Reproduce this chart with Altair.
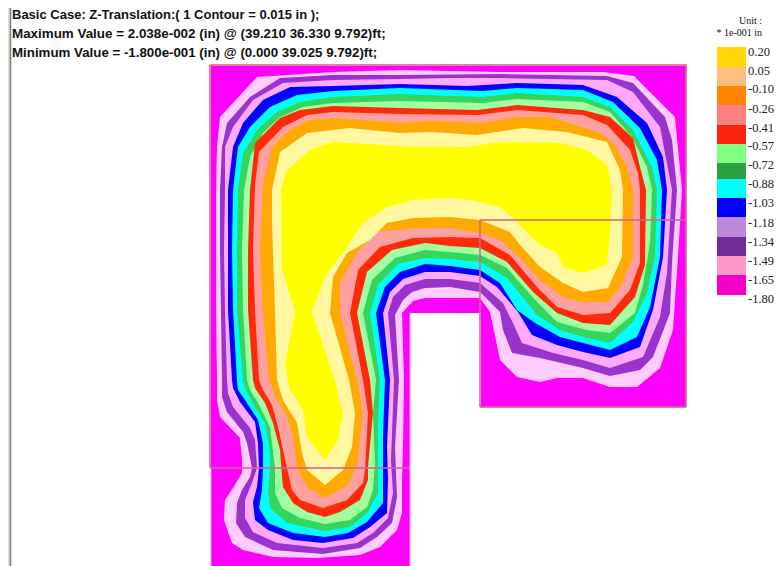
import altair as alt
import pandas as pd

title_lines = ["Basic Case: Z-Translation:( 1 Contour = 0.015 in );",
               "Maximum Value = 2.038e-002 (in) @ (39.210 36.330 9.792)ft;",
               "Minimum Value = -1.800e-001 (in) @ (0.000 39.025 9.792)ft;"]
title_x = [12, 12, 12]
title_y = [15, 34, 53]
title_size = [13.0, 13.4, 13.3]

legend_labels = ["0.20","0.05","-0.10","-0.26","-0.41","-0.57","-0.72","-0.88","-1.03","-1.18","-1.34","-1.49","-1.65","-1.80"]
legend_label_y = [52,71,89,109,128,146,165,184,203,223,242,261,280,299]
legend_top = [47,67,86,105,125,144,163,179,198,217,237,256,275]
legend_bottom = [67,86,105,125,144,163,179,198,217,237,256,275,295]
legend_colors = ["#FFD80A","#FFBE80","#FF8400","#FF8080","#FF2410","#80FF80","#2AA040","#00FFFF","#0000FF","#BC88DC","#702D9A","#FF99CC","#F500C8"]

base = [(211,66),(686,66),(686,407),(481,407),(481,313),(410,313),(410,566),(211,566)]
pink = [(217,380),(216,310),(216,250),(216,190),(217,147),(220,117),(257,77),(333,72),(400,70),(500,72),(603,72),(634,76),(675,117),(682,190),(678,257),(673,330),(660,368),(637,387),(610,387),(583,378),(557,378),(540,382),(517,377),(500,360),(490,312),(480,298),(450,298),(425,298),(413,301),(402,313),(404,380),(403,447),(402,480),(402,513),(397,530),(380,547),(360,555),(317,558),(273,557),(243,550),(232,543),(224,520),(225,500),(233,488),(242,473),(242,460),(240,438),(220,417),(217,400)]
purple = [(222,380),(221,310),(220,250),(220,190),(222,147),(227,123),(250,97),(280,78),(333,75),(400,75),(500,74),(607,76),(633,83),(665,117),(672,140),(677,190),(672,263),(670,313),(653,357),(640,370),(610,376),(583,368),(540,358),(512,353),(503,330),(500,312),(480,292),(450,287),(425,288),(412,292),(403,300),(395,315),(399,380),(395,447),(397,497),(392,523),(377,537),(360,548),(323,554),(273,550),(245,537),(236,523),(237,503),(242,490),(250,477),(252,468),(247,443),(243,432),(227,412),(222,397)]
violet = [(227,380),(225,310),(224,250),(225,190),(225,147),(233,127),(253,100),(283,83),(333,80),(400,79),(450,78),(500,78),(607,80),(633,92),(660,127),(672,190),(667,273),(660,317),(643,357),(610,368),(583,360),(553,353),(522,343),(513,323),(503,303),(480,283),(450,279),(425,279),(405,285),(393,297),(388,313),(394,380),(391,460),(393,493),(388,518),(373,533),(357,543),(323,548),(277,543),(253,532),(245,518),(245,500),(252,483),(257,468),(255,440),(250,428),(233,407),(228,393)]
blue = [(232,380),(228,310),(228,250),(228,190),(233,147),(243,123),(263,100),(290,87),(333,86),(400,84),(467,86),(517,83),(583,85),(617,97),(647,123),(663,157),(667,190),(663,257),(653,310),(640,347),(610,358),(583,352),(557,345),(532,335),(518,312),(497,287),(480,276),(450,272),(425,272),(403,279),(390,292),(383,313),(390,380),(387,447),(388,480),(387,513),(370,527),(353,538),(323,543),(293,540),(268,530),(255,520),(253,502),(257,487),(259,468),(258,443),(255,422),(240,402),(233,388)]
cyan = [(237,380),(233,310),(232,250),(233,190),(238,147),(250,127),(270,107),(297,95),(333,91),(400,88),(483,91),(517,88),(583,90),(613,102),(640,128),(657,160),(662,190),(660,257),(650,307),(637,337),(610,350),(583,343),(560,337),(535,323),(517,310),(500,283),(480,270),(450,266),(425,264),(400,272),(385,287),(376,313),(385,380),(383,437),(383,470),(383,503),(367,522),(348,533),(325,537),(293,533),(268,523),(259,508),(262,490),(263,468),(263,443),(258,420),(245,400),(238,390)]
green = [(243,380),(237,310),(237,250),(238,190),(243,153),(257,130),(277,112),(300,102),(333,97),(400,94),(483,97),(517,93),(583,97),(610,107),(633,130),(652,167),(657,190),(655,257),(647,293),(633,322),(610,343),(583,337),(560,330),(537,315),(507,278),(480,262),(450,259),(425,258),(398,264),(378,285),(370,313),(380,380),(378,423),(378,467),(378,493),(368,512),(350,527),(325,531),(310,528),(287,523),(270,508),(268,490),(270,468),(270,453),(265,423),(252,402),(245,388)]
lgreen = [(247,380),(243,310),(242,250),(244,190),(250,157),(263,133),(280,117),(303,107),(333,103),(400,101),(483,103),(517,99),(583,102),(610,112),(632,137),(647,167),(652,190),(650,243),(643,285),(635,313),(610,333),(587,330),(557,322),(537,302),(507,268),(480,255),(450,252),(425,250),(395,258),(372,280),(363,313),(376,380),(373,413),(375,463),(373,490),(367,507),(350,520),(325,524),(300,518),(282,508),(275,493),(275,468),(270,427),(258,403),(250,390)]
red = [(253,380),(248,310),(248,250),(250,190),(255,143),(280,118),(300,110),(333,106),(400,108),(477,110),(517,105),(583,110),(610,117),(633,138),(640,167),(646,190),(645,265),(635,297),(610,325),(583,323),(557,313),(533,292),(507,262),(480,248),(450,246),(425,243),(392,250),(367,272),(357,313),(370,380),(373,413),(368,467),(368,480),(360,500),(340,512),(325,517),(307,512),(293,503),(283,487),(282,477),(280,450),(273,423),(265,403),(255,388)]
salmon = [(259,380),(255,310),(253,250),(255,185),(259,152),(283,127),(307,115),(333,112),(400,114),(477,115),(517,110),(583,115),(607,125),(630,150),(638,173),(640,190),(640,263),(630,290),(610,313),(583,315),(557,307),(537,287),(510,255),(480,238),(450,237),(413,238),(380,247),(358,270),(350,313),(363,380),(368,413),(365,470),(363,483),(347,500),(323,508),(300,500),(292,490),(287,468),(278,427),(272,405),(263,390)]
orange = [(269,380),(263,310),(260,250),(263,185),(272,147),(290,130),(310,120),(333,118),(400,123),(433,121),(483,123),(517,117),(550,117),(600,133),(613,143),(627,167),(633,190),(633,257),(620,287),(608,302),(583,302),(563,297),(540,280),(520,258),(500,240),(480,233),(450,228),(417,228),(377,232),(357,253),(340,283),(340,313),(357,380),(363,413),(357,465),(348,485),(325,498),(308,488),(297,468),(293,437),(287,417),(277,400)]
pyellow = [(277,380),(275,312),(272,223),(272,190),(280,152),(307,133),(350,128),(400,133),(433,132),(477,135),(523,128),(567,132),(607,142),(620,170),(623,190),(622,257),(608,288),(583,292),(563,283),(540,267),(520,245),(510,232),(480,220),(450,217),(413,218),(387,223),(370,240),(347,253),(333,277),(330,313),(349,380),(355,413),(352,447),(343,470),(325,485),(307,470),(302,453),(297,423),(283,400)]
yellow = [(288,380),(285,363),(295,312),(282,270),(281,190),(287,170),(310,150),(333,142),(400,146),(467,147),(500,142),(560,143),(587,150),(607,165),(612,190),(610,233),(607,265),(583,273),(563,267),(557,253),(540,245),(515,220),(500,207),(470,200),(450,198),(413,200),(387,207),(363,223),(343,253),(327,273),(312,312),(335,380),(343,413),(338,440),(325,460),(307,437),(303,410),(290,390)]

contours = [("base",base,"#FF00FF"),("pink",pink,"#FFCCFF"),("purple",purple,"#9933CC"),("violet",violet,"#FFAAFF"),
            ("blue",blue,"#0000FF"),("cyan",cyan,"#00FFFF"),("green",green,"#33D65A"),("lgreen",lgreen,"#A0FFA0"),
            ("red",red,"#FF2A0A"),("salmon",salmon,"#FFA0A0"),("orange",orange,"#FFAA00"),("pyellow",pyellow,"#FFF8A0"),("yellow",yellow,"#FFFF00")]

# edges of the shell elements
edge_x1 = [210,210,210,686,480,480,480]
edge_y1 = [65,65,468,65,220,220,407]
edge_x2 = [687,210,410,686,686,480,686]
edge_y2 = [65,468,468,407,220,407,407]
light_x = [211,410]
light_y = [468,313]
light_y2 = [566,566]

X = alt.Scale(domain=[8,775], range=[0,767], nice=False, zero=False)
Y = alt.Scale(domain=[8,566], range=[0,558], nice=False, zero=False)
xe = lambda f="x": alt.X(f"{f}:Q", scale=X, axis=None)
ye = lambda f="y": alt.Y(f"{f}:Q", scale=Y, axis=None)

layers = []
for name, pts, col in contours:
    df = pd.DataFrame({"x":[p[0] for p in pts], "y":[p[1] for p in pts], "i":range(len(pts))})
    layers.append(alt.Chart(df).mark_line(filled=True, interpolate="linear-closed", strokeWidth=0, color=col, fill=col, clip=True)
                  .encode(x=xe(), y=ye(), order="i:Q"))

edges = pd.DataFrame({"x":edge_x1,"y":edge_y1,"x2":edge_x2,"y2":edge_y2})
layers.append(alt.Chart(edges).mark_rule(color="#D4648C", strokeWidth=2, opacity=0.8).encode(x=xe(), y=ye(), x2="x2:Q", y2="y2:Q"))
light = pd.DataFrame({"x":light_x,"y":light_y,"y2":light_y2})
layers.append(alt.Chart(light).mark_rule(color="#F09AE0", strokeWidth=1).encode(x=xe(), y=ye(), y2="y2:Q"))

layers.append(alt.Chart(pd.DataFrame({"x":[9.2],"y":[8],"y2":[566]})).mark_rule(color="#C8C4BC", strokeWidth=1.5).encode(x=xe(), y=ye(), y2="y2:Q"))
layers.append(alt.Chart(pd.DataFrame({"x":[10.6],"y":[8],"y2":[566]})).mark_rule(color="#807F78", strokeWidth=1.3).encode(x=xe(), y=ye(), y2="y2:Q"))

leg = pd.DataFrame({"x":[717]*13,"x2":[746]*13,"y":legend_top,"y2":legend_bottom,"c":legend_colors})
layers.append(alt.Chart(leg).mark_rect().encode(x=xe(), x2="x2:Q", y=ye(), y2="y2:Q", color=alt.Color("c:N", scale=None)))

lab = pd.DataFrame({"x":[748]*14,"y":legend_label_y,"t":legend_labels})
layers.append(alt.Chart(lab).mark_text(align="left", baseline="middle", font="Liberation Serif", fontSize=12.5, color="#222222").encode(x=xe(), y=ye(), text="t:N"))

unit = pd.DataFrame({"x":[762,762],"y":[21,33],"t":["Unit :","* 1e-001 in"]})
layers.append(alt.Chart(unit).mark_text(align="right", baseline="middle", font="Liberation Serif", fontSize=10, color="#111111").encode(x=xe(), y=ye(), text="t:N"))

ttl = pd.DataFrame({"x":title_x,"y":title_y,"t":title_lines,"s":title_size})
layers.append(alt.Chart(ttl).mark_text(align="left", baseline="middle", font="Liberation Sans", fontWeight="bold", color="#111111").encode(x=xe(), y=ye(), text="t:N", size=alt.Size("s:Q", scale=None)))

chart = alt.layer(*layers).properties(width=767, height=558, padding=0, autosize=alt.AutoSizeParams(type="none")).configure_view(stroke=None)
chart.save("out.html", embed_options={"renderer": "svg", "actions": False})
